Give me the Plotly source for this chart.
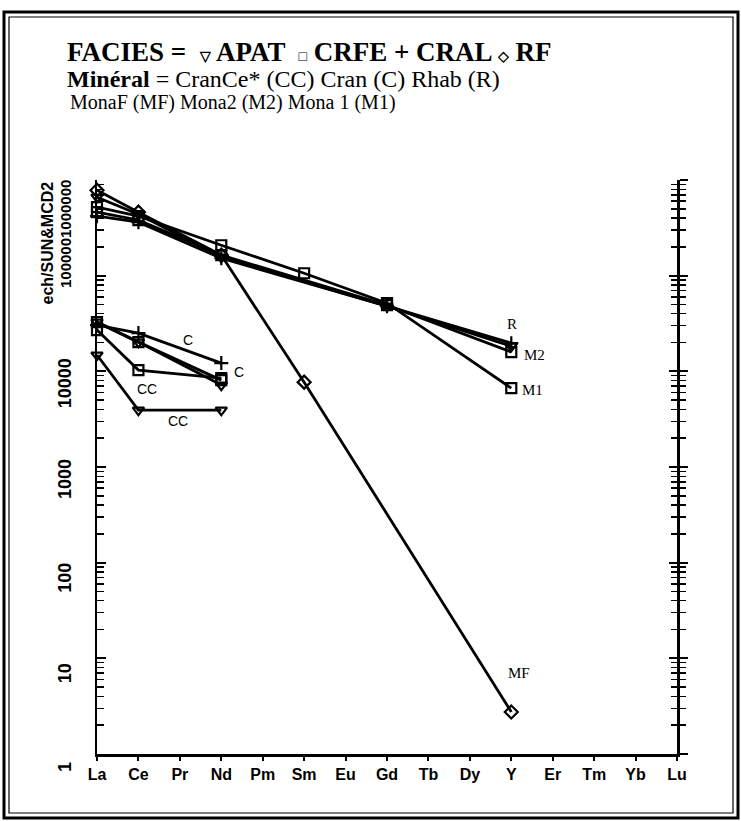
import plotly.graph_objects as go

# ---------------- data ----------------
elements = ["La", "Ce", "Pr", "Nd", "Pm", "Sm", "Eu", "Gd", "Tb", "Dy", "Y", "Er", "Tm", "Yb", "Lu"]

# upper group (RF / Mona / Rhab)
mf_rf_elems = ["La", "Ce", "Nd", "Sm", "Y"]
mf_rf_vals = [782000, 461000, 164000, 7710, 2.75]

m1_crfe_elems = ["La", "Ce", "Nd", "Sm", "Gd", "Y"]
m1_crfe_vals = [520000, 419000, 208000, 106000, 51600, 6670]

m2_crfe_elems = ["La", "Ce", "Nd", "Gd", "Y"]
m2_crfe_vals = [461000, 380000, 164000, 49200, 15900]

r_cral_elems = ["La", "Ce", "Nd", "Gd", "Y"]
r_cral_vals = [419000, 362000, 152000, 48000, 19700]

r_apat_elems = ["La", "Ce", "Nd", "Gd", "Y"]
r_apat_vals = [661000, 439000, 156000, 48000, 18300]

# lower group (Cran / CranCe*)
low_elems = ["La", "Ce", "Nd"]
c_cral_vals = [30400, 25100, 12200]
c_crfe_vals = [32700, 20200, 8090]
c_apat_vals = [32700, 20200, 7180]
cc_crfe_vals = [27000, 10300, 8490]
cc_apat_vals = [14800, 3930, 3930]

ytick_vals = [1, 10, 100, 1000, 10000, 100000, 1000000]
ytick_text = ["1", "10", "100", "1000", "10000", "100000", "1000000"]

# ---------------- geometry helpers (layout only) ----------------
W, H = 741, 821
L, R, T, B = 97, 64, 180, 67
PW, PH = W - L - R, H - T - B


def px(x):
    return (x - L) / PW


def py(y):
    return (H - B - y) / PH


SYM = {
    "APAT": "triangle-down-open",
    "CRFE": "square-open",
    "CRAL": "cross-thin-open",
    "RF": "diamond-open",
}

series = [
    (mf_rf_elems, mf_rf_vals, "RF"),
    (m1_crfe_elems, m1_crfe_vals, "CRFE"),
    (m2_crfe_elems, m2_crfe_vals, "CRFE"),
    (r_cral_elems, r_cral_vals, "CRAL"),
    (r_apat_elems, r_apat_vals, "APAT"),
    (low_elems, c_cral_vals, "CRAL"),
    (low_elems, c_crfe_vals, "CRFE"),
    (low_elems, c_apat_vals, "APAT"),
    (low_elems, cc_crfe_vals, "CRFE"),
    (low_elems, cc_apat_vals, "APAT"),
]

fig = go.Figure()
for el, vals, fac in series:
    fig.add_trace(go.Scatter(
        x=el, y=vals, mode="lines+markers",
        line=dict(color="black", width=2.8),
        marker=dict(symbol=SYM[fac], size=10, color="black",
                    line=dict(color="black", width=2.2)),
        cliponaxis=False, showlegend=False, hoverinfo="skip",
    ))

# dummy traces so the right-hand axes get drawn
fig.add_trace(go.Scatter(x=[None], y=[None], yaxis="y2", showlegend=False, hoverinfo="skip"))
fig.add_trace(go.Scatter(x=[None], y=[None], yaxis="y3", showlegend=False, hoverinfo="skip"))

tickfont = dict(family="Liberation Sans, Arial", size=16, color="black")

fig.update_layout(
    width=W, height=H, autosize=False, hovermode=False,
    margin=dict(l=L, r=R, t=T, b=B),
    paper_bgcolor="white", plot_bgcolor="white",
    xaxis=dict(
        type="category", categoryorder="array", categoryarray=elements,
        range=[0, len(elements) - 1],
        tickmode="array", tickvals=elements, ticktext=[f"<b>{e}</b>" for e in elements],
        tickfont=tickfont, ticks="outside", ticklen=4, tickwidth=2, tickcolor="black",
        showline=True, linecolor="black", linewidth=2.5, showgrid=False, zeroline=False,
        ticklabelstandoff=0,
    ),
    yaxis=dict(
        type="log", range=[0, 6], showticklabels=False,
        tickvals=ytick_vals, ticks="inside", ticklen=9, tickwidth=2, tickcolor="black",
        minor=dict(dtick="D1", ticks="inside", ticklen=7, tickwidth=1.5, tickcolor="black", showgrid=False),
        showline=True, linecolor="black", linewidth=2.5, showgrid=False, zeroline=False,
    ),
    yaxis2=dict(
        type="log", range=[0, 6], overlaying="y", side="right", anchor="x",
        showticklabels=False, tickvals=ytick_vals, ticks="outside", ticklen=8, tickwidth=2,
        tickcolor="black",
        minor=dict(dtick="D1", ticks="outside", ticklen=6, tickwidth=1.5, tickcolor="black", showgrid=False),
        showline=True, linecolor="black", linewidth=2.5, showgrid=False, zeroline=False,
    ),
    yaxis3=dict(
        type="log", range=[0, 6], overlaying="y", side="right", anchor="x",
        showticklabels=False, tickvals=ytick_vals, ticks="inside", ticklen=8, tickwidth=2,
        tickcolor="black",
        minor=dict(dtick="D1", ticks="inside", ticklen=6, tickwidth=1.5, tickcolor="black", showgrid=False),
        showline=False, showgrid=False, zeroline=False,
    ),
)

ann = []
# y tick labels (rotated)
yshift_map = {1: -13, 10: -15, 100: -15, 1000: -12, 10000: -12}
for v, t in zip(ytick_vals, ytick_text):
    if v in yshift_map:
        ann.append(dict(x=px(65), xref="paper", y=len(str(v)) - 1, yref="y",
                        yshift=yshift_map[v], text=f"<b>{t}</b>", textangle=-90,
                        showarrow=False, font=dict(family="Liberation Sans, Arial", size=18, color="black"),
                        xanchor="center", yanchor="middle"))
# crowded top labels 100000 / 1000000
ann.append(dict(x=px(65), xref="paper", y=py(263), yref="paper", text="<b>100000</b>", textangle=-90,
                showarrow=False, font=dict(family="Liberation Sans, Arial", size=15, color="black"),
                xanchor="center", yanchor="middle"))
ann.append(dict(x=px(65), xref="paper", y=py(209), yref="paper", text="<b>1000000</b>", textangle=-90,
                showarrow=False, font=dict(family="Liberation Sans, Arial", size=15, color="black"),
                xanchor="center", yanchor="middle"))
# axis title
ann.append(dict(x=px(47), xref="paper", y=py(180), yref="paper", text="<b>ech/SUN&MCD2</b>", textangle=-90,
                showarrow=False, font=dict(family="Liberation Sans, Arial", size=16, color="black"),
                xanchor="center", yanchor="top"))

# series labels
serif = "Liberation Serif, Times New Roman"
sans = "Liberation Sans, Arial"
lab = [
    ("R", 10.02, 4.50, serif, 15),
    ("M2", 10.55, 4.17, serif, 15),
    ("M1", 10.5, 3.81, serif, 15),
    ("MF", 10.19, 0.85, serif, 15),
    ("C", 2.2, 4.33, sans, 14),
    ("C", 3.43, 3.99, sans, 14),
    ("CC", 1.2, 3.82, sans, 14),
    ("CC", 1.96, 3.48, sans, 14),
]
for t, x, y, fam, sz in lab:
    ann.append(dict(x=x, y=y, xref="x", yref="y", text=t, showarrow=False,
                    font=dict(family=fam, size=sz, color="black"), xanchor="center", yanchor="middle"))

# header
sym = "<span style='font-size:14px'>{}</span>"
ann.append(dict(x=px(65), xref="paper", y=py(52), yref="paper", xanchor="left", yanchor="middle",
                text="<b>FACIES =  " + sym.format("▽") + " APAT  " + sym.format("□")
                     + " CRFE + CRAL " + sym.format("◇") + " RF</b>",
                showarrow=False, font=dict(family=serif, size=27, color="black")))
ann.append(dict(x=px(65), xref="paper", y=py(79), yref="paper", xanchor="left", yanchor="middle",
                text="<b>Minéral</b> = CranCe* (CC) Cran (C) Rhab (R)",
                showarrow=False, font=dict(family=serif, size=24, color="black")))
ann.append(dict(x=px(68), xref="paper", y=py(102), yref="paper", xanchor="left", yanchor="middle",
                text="MonaF (MF) Mona2 (M2) Mona 1 (M1)",
                showarrow=False, font=dict(family=serif, size=20, color="black")))

fig.update_layout(annotations=ann)

# double frame around the figure
shapes = [
    dict(type="rect", xref="paper", yref="paper", x0=px(4), x1=px(738), y0=py(818), y1=py(12),
         line=dict(color="black", width=3), fillcolor="rgba(0,0,0,0)", layer="above"),
    dict(type="rect", xref="paper", yref="paper", x0=px(9), x1=px(733), y0=py(813), y1=py(17),
         line=dict(color="black", width=1.2), fillcolor="rgba(0,0,0,0)", layer="above"),
]
fig.update_layout(shapes=shapes)

fig.write_html("out.html", config={"displayModeBar": False, "staticPlot": True},
               post_script="document.body.style.margin='0px';document.body.style.overflow='hidden';")
